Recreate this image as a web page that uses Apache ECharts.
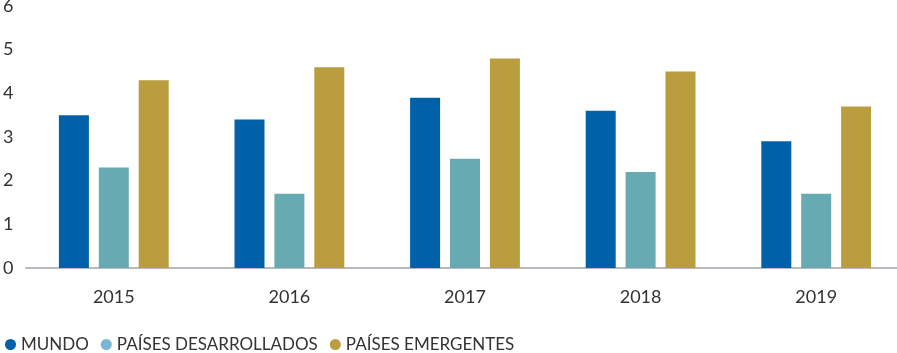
<!DOCTYPE html>
<html>
<head>
<meta charset="utf-8">
<script src="https://cdn.jsdelivr.net/npm/echarts@6/dist/echarts.min.js"></script>
<style>
  html, body { margin: 0; padding: 0; background: #fff; }
  #main { width: 897px; height: 353px; }
</style>
</head>
<body>
<div id="main"></div>
<script>
    var years = ['2015', '2016', '2017', '2018', '2019'];
    var mundo = [3.5, 3.4, 3.9, 3.6, 2.9];
    var desarrollados = [2.3, 1.7, 2.5, 2.2, 1.7];
    var emergentes = [4.3, 4.6, 4.8, 4.5, 3.7];
    var yTicks = [0, 1, 2, 3, 4, 5, 6];

    var chart = echarts.init(document.getElementById('main'));
    chart.setOption({
        animation: false,
        textStyle: { fontFamily: 'Lato' },
        legend: {
            left: 0,
            bottom: -5,
            icon: 'circle',
            itemWidth: 11,
            itemHeight: 11,
            itemGap: 12,
            textStyle: { fontSize: 17, color: '#333', fontFamily: 'Lato' },
            data: [
                { name: 'MUNDO', itemStyle: { color: '#0060a8' } },
                { name: 'PAÍSES DESARROLLADOS', itemStyle: { color: '#7ab6d3' } },
                { name: 'PAÍSES EMERGENTES', itemStyle: { color: '#b99d3f' } }
            ]
        },
        grid: {
            left: 26,
            width: 878,
            top: 6,
            bottom: 85,
            outerBoundsMode: 'none',
            containLabel: false
        },
        xAxis: {
            type: 'category',
            data: years,
            axisLine: { lineStyle: { color: '#b8b8bf', width: 2 } },
            axisTick: { show: false },
            axisLabel: { margin: 20, fontSize: 18, color: '#333' }
        },
        yAxis: {
            type: 'value',
            min: yTicks[0],
            max: yTicks[yTicks.length - 1],
            interval: 1,
            splitLine: { show: false },
            axisLine: { show: false },
            axisTick: { show: false },
            axisLabel: {
                fontSize: 18,
                color: '#333',
                align: 'left',
                margin: 23,
                verticalAlign: 'middle'
            }
        },
        series: [
            {
                name: 'MUNDO',
                type: 'bar',
                data: mundo,
                barWidth: 30,
                barGap: '33%',
                itemStyle: { color: '#0060a8' }
            },
            {
                name: 'PAÍSES DESARROLLADOS',
                type: 'bar',
                data: desarrollados,
                barWidth: 30,
                itemStyle: { color: '#67aab2' }
            },
            {
                name: 'PAÍSES EMERGENTES',
                type: 'bar',
                data: emergentes,
                barWidth: 30,
                itemStyle: { color: '#b99d3f' }
            }
        ]
    });
</script>
</body>
</html>
